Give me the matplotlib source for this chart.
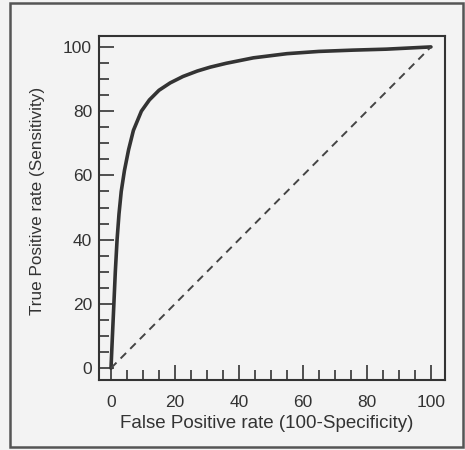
import matplotlib
matplotlib.use("Agg")
import matplotlib.pyplot as plt
from matplotlib.patches import Rectangle
from matplotlib.ticker import MultipleLocator

plt.rcParams['font.family'] = ['Liberation Sans', 'DejaVu Sans']

# ROC curve
fpr = [0, 0.4, 0.9, 1.35, 1.9, 2.5, 3.2, 4.2, 5.5, 7.0, 9.5, 12.0, 15.0, 18.5,
       22.5, 27, 31, 36, 44.5, 55, 65, 75.6, 86, 100]
tpr = [0, 9, 20, 30, 40, 48, 55, 61.5, 68, 74, 80, 83.5, 86.5, 88.8,
       90.8, 92.5, 93.7, 94.9, 96.6, 97.9, 98.6, 99.0, 99.3, 100]
chance = [0, 100]

bg = '#f3f3f3'
ink = '#333333'
fig = plt.figure(figsize=(4.65, 4.5), dpi=100, facecolor=bg)
fig.patches.append(Rectangle((10 / 465, 3 / 450), 453 / 465, 444 / 450,
                             transform=fig.transFigure, fill=False,
                             edgecolor='#555555', linewidth=1.8))

ax = fig.add_axes([99 / 465, 70 / 450, 346 / 465, 344 / 450])
ax.set_facecolor(bg)
ax.plot(fpr, tpr, color=ink, linewidth=2.6, solid_capstyle='round',
        solid_joinstyle='round')
ax.plot(chance, chance, color='#444444', linewidth=1.4, linestyle=(0, (4, 3)))

ax.set_xlim(-3.75, 104.4)
ax.set_ylim(-3.7, 103.4)
ax.xaxis.set_major_locator(MultipleLocator(20))
ax.xaxis.set_minor_locator(MultipleLocator(5))
ax.yaxis.set_major_locator(MultipleLocator(20))
ax.yaxis.set_minor_locator(MultipleLocator(5))
ax.tick_params(which='major', direction='in', length=11, width=1.2,
               color=ink, labelsize=12.5, labelcolor=ink)
ax.tick_params(which='minor', direction='in', length=7, width=1.2, color=ink)
ax.tick_params(axis='x', pad=11)
ax.tick_params(axis='y', pad=5)
for s in ax.spines.values():
    s.set_linewidth(1.5)
    s.set_color(ink)

ax.set_xlabel('False Positive rate (100-Specificity)', fontsize=13.5, color=ink,
              va='center')
ax.set_ylabel('True Positive rate (Sensitivity)', fontsize=12.3, color=ink,
              va='center')
ax.xaxis.set_label_coords(0.484, -0.125)
ax.yaxis.set_label_coords(-0.179, 0.52)

fig.savefig('out.png', dpi=100, facecolor=bg)
